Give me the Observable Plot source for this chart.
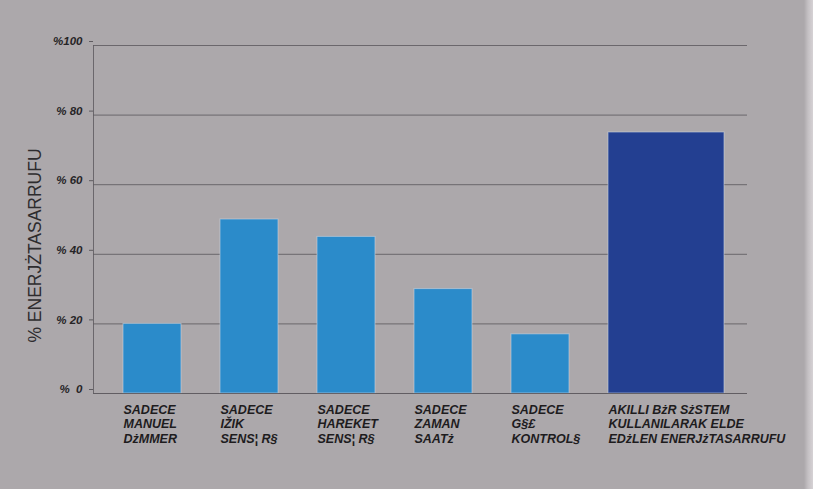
<!DOCTYPE html>
<html><head><meta charset="utf-8">
<script src="https://cdn.jsdelivr.net/npm/d3@7"></script>
<script src="https://cdn.jsdelivr.net/npm/@observablehq/plot@0.6"></script>
<style>
html,body{margin:0;padding:0;background:#aca8ab;}
#chart{position:relative;width:813px;height:489px;overflow:hidden;
  background:linear-gradient(to right, #aca8ab 0, #aca8ab 804px, #c4c0c3 808px, #d6d2d5 813px);}
#chart svg.plot{position:absolute;left:0;top:0;}
</style></head><body>
<div id="chart"></div>
<script>
const categories = [
  "SADECE\nMANUEL\nDżMMER",
  "SADECE\nIŽIK\nSENS¦ R§",
  "SADECE\nHAREKET\nSENS¦ R§",
  "SADECE\nZAMAN\nSAATż",
  "SADECE\nG§£\nKONTROL§",
  "AKILLI BżR SżSTEM\nKULLANILARAK ELDE\nEDżLEN ENERJżTASARRUFU"
];
const savings = [20, 50, 45, 30, 17, 75];
const systemType = ["tek", "tek", "tek", "tek", "tek", "akilli"];
const yTicks = [0, 20, 40, 60, 80, 100];
const yTickLabels = ["%\u00a0\u00a00", "%\u00a020", "%\u00a040", "%\u00a060", "%\u00a080", "%100"];
const yTitle = "% ENERJŻTASARRUFU";

const data = categories.map((c, i) => ({category: c, value: savings[i], type: systemType[i]}));
const single = data.filter(d => d.type === "tek");
const smart = data.filter(d => d.type === "akilli");

const chart = Plot.plot({
  width: 813,
  height: 489,
  marginLeft: 93,
  marginRight: 66,
  marginTop: 45,
  marginBottom: 96,
  style: {background: "transparent", fontFamily: "'Liberation Sans', Arial, sans-serif", fontStyle: "italic", fontWeight: "bold", overflow: "visible"},
  x: {domain: categories, paddingInner: 0.405, paddingOuter: 0.556, align: 0.267, axis: null},
  y: {domain: [0, 100], axis: null},
  color: {domain: ["tek", "akilli"], range: ["#2b8bca", "#233f91"]},
  marks: [
    Plot.gridY(yTicks, {stroke: "#5f5c60", strokeOpacity: 0.85, strokeWidth: 1}),
    Plot.frame({anchor: "left", stroke: "#5f5c60", strokeOpacity: 0.85}),
    Plot.barY(single, {x: "category", y: "value", fill: "type", stroke: "#c9d3df", strokeWidth: 1, strokeOpacity: 0.6}),
    Plot.barY(smart, {x: "category", y: "value", fill: "type", insetRight: -58, stroke: "#c9d3df", strokeWidth: 1, strokeOpacity: 0.6}),
    Plot.ruleY([0], {stroke: "#5f5c60", strokeOpacity: 0.85}),
    Plot.axisY(yTicks, {tickSize: 4, tickPadding: 7, dy: -4, fontSize: 11.5, stroke: "#5f5c60", fill: "#262426",
      tickFormat: d => yTickLabels[yTicks.indexOf(d)], label: null}),
    Plot.axisX({anchor: "bottom", tickSize: 0, tickPadding: 10, textAnchor: "start", dx: -29, lineHeight: 1.16,
      fontSize: 12.5, fill: "#1e1c1e", label: null}),
    Plot.text([yTitle], {frameAnchor: "left", textAnchor: "middle", rotate: -90, dx: -58, dy: 26,
      fontSize: 17.5, fontWeight: "normal", fontStyle: "normal", fill: "#2e2c2e"})
  ]
});
document.getElementById("chart").appendChild(chart);
</script>
</body></html>
